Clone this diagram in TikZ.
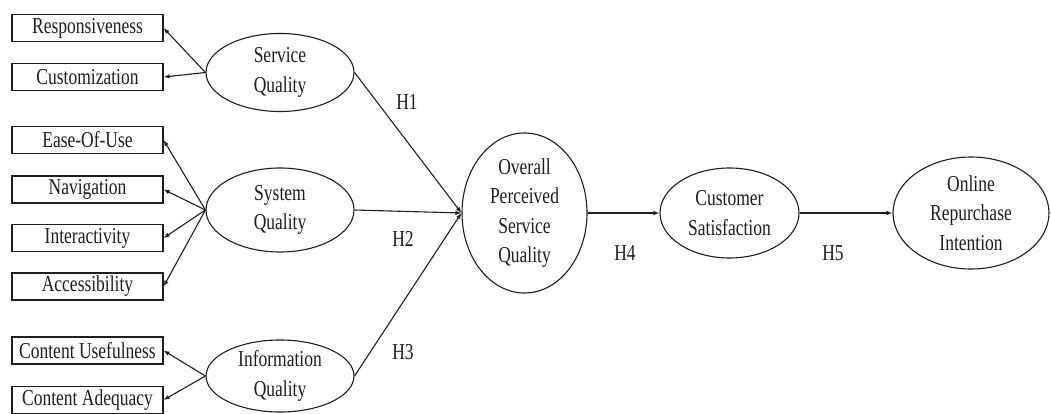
\documentclass[tikz,border=0pt]{standalone}
\usepackage{graphicx}
\usepackage{fontspec}
\setmainfont{Liberation Serif}
\usetikzlibrary{shapes.geometric,arrows.meta}

% taller, narrow-looking lettering
\newcommand{\stretchtxt}[1]{\scalebox{1}[1.3]{#1}}

\definecolor{ink}{HTML}{1E1E1E}

\begin{document}
\begin{tikzpicture}[x=1pt,y=-1pt,
  every node/.style={text=ink,font=\fontsize{17.5}{29.5}\selectfont},
  indicator/.style={draw=ink,line width=1.1pt,rectangle,minimum width=151pt,minimum height=27pt,inner sep=0pt},
  construct/.style={draw=ink,line width=1.1pt,ellipse,inner sep=0pt,align=center},
  link/.style={draw=ink,line width=1.1pt,-{Latex[length=6pt,width=4.5pt]}},
  hyp/.style={inner sep=0pt}
]
\useasboundingbox[fill=white] (0,0) rectangle (1051,414);

% measured indicators
\node[indicator] (resp) at (87.5,28) {\stretchtxt{Responsiveness}};
\node[indicator] (cust) at (87.5,77) {\stretchtxt{Customization}};
\node[indicator] (ease) at (87.5,140) {\stretchtxt{Ease-Of-Use}};
\node[indicator] (nav)  at (87.5,189.5) {\stretchtxt{Navigation}};
\node[indicator] (inter) at (87.5,238) {\stretchtxt{Interactivity}};
\node[indicator] (acc) at (87.5,286.5) {\stretchtxt{Accessibility}};
\node[indicator] (cu) at (87.5,350.5) {\stretchtxt{Content Usefulness}};
\node[indicator] (ca) at (87.5,400) {\stretchtxt{Content Adequacy}};

% latent constructs
\node[construct,minimum width=148pt,minimum height=78pt] (sq) at (280,72.5) {\stretchtxt{Service}\\\stretchtxt{Quality}};
\node[construct,minimum width=148pt,minimum height=84pt] (sys) at (280,210) {\stretchtxt{System}\\\stretchtxt{Quality}};
\node[construct,minimum width=148pt,minimum height=72pt] (iq) at (280,376) {\stretchtxt{Information}\\\stretchtxt{Quality}};
\node[construct,minimum width=125pt,minimum height=160pt] (ops) at (524.5,213) {\stretchtxt{Overall}\\\stretchtxt{Perceived}\\\stretchtxt{Service}\\\stretchtxt{Quality}};
\node[construct,minimum width=139pt,minimum height=90pt] (cs) at (729.5,213) {\stretchtxt{Customer}\\\stretchtxt{Satisfaction}};
\node[construct,minimum width=156pt,minimum height=112pt] (ori) at (971,213) {\stretchtxt{Online}\\\stretchtxt{Repurchase}\\\stretchtxt{Intention}};

% construct -> indicator paths
\draw[link] (sq.west) -- (resp.east);
\draw[link] (sq.west) -- (cust.east);
\draw[link] (sys.west) -- (ease.east);
\draw[link] (sys.west) -- (nav.east);
\draw[link] (sys.west) -- (inter.east);
\draw[link] (sys.west) -- (acc.east);
\draw[link] (iq.west) -- (cu.east);
\draw[link] (iq.west) -- (ca.east);

% structural paths
\draw[link] (sq.east) -- (ops.west);
\draw[link] (sys.east) -- (ops.west);
\draw[link] (iq.east) -- (ops.west);
\draw[link] (ops.east) -- (cs.west);
\draw[link] (cs.east) -- (ori.west);

% hypothesis labels
\node[hyp] (h1) at (407,102) {\stretchtxt{H1}};
\node[hyp] (h2) at (403,239) {\stretchtxt{H2}};
\node[hyp] (h3) at (403,352) {\stretchtxt{H3}};
\node[hyp] (h4) at (625,253) {\stretchtxt{H4}};
\node[hyp] (h5) at (833,253) {\stretchtxt{H5}};
\end{tikzpicture}
\end{document}
